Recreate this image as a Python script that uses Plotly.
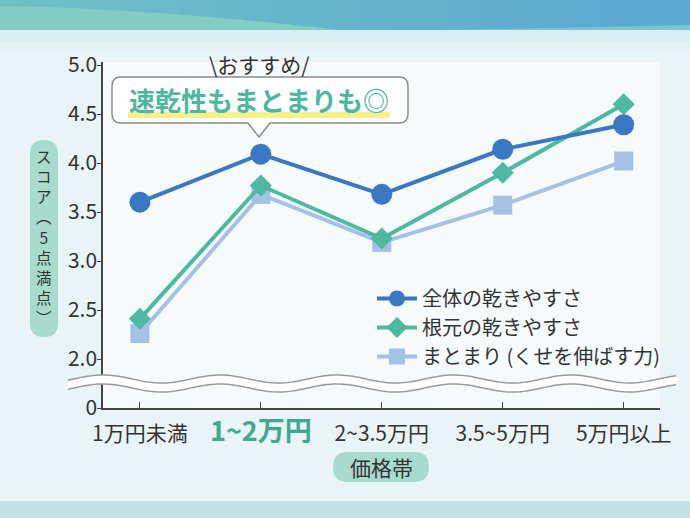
import numpy as np
import plotly.graph_objects as go

# price bands and scores
categories = ["1万円未満", "1~2万円", "2~3.5万円", "3.5~5万円", "5万円以上"]
overall = [3.60, 4.09, 3.68, 4.14, 4.39]      # 全体の乾きやすさ
roots = [2.41, 3.77, 3.23, 3.90, 4.60]        # 根元の乾きやすさ
matomari = [2.26, 3.68, 3.19, 3.57, 4.02]     # まとまり（くせを伸ばす力）
names = ["全体の乾きやすさ", "根元の乾きやすさ", "まとまり (くせを伸ばす力)"]

y_tickvals = [1.5, 2.0, 2.5, 3.0, 3.5, 4.0, 4.5, 5.0]
y_ticktext = ["0", "2.0", "2.5", "3.0", "3.5", "4.0", "4.5", "5.0"]
highlight = 1  # the recommended band

FONT = "Noto Sans CJK JP"
BLUE, TEAL, LIGHT = "#3b78c4", "#4cb9a0", "#a4c2e6"
PILL = "#a7dccd"

# plot area in pixels
L, T, W, H = 103, 62, 557, 346


def px(x):
    return (x - L) / W


def py(y):
    return (T + H - y) / H


def path(points, close=True):
    s = "M " + " L ".join(f"{px(x):.5f},{py(y):.5f}" for x, y in points)
    return s + (" Z" if close else "")


def rrect(x0, y0, x1, y1, r, pointer=None):
    def p(x, y):
        return f"{px(x):.5f},{py(y):.5f}"
    s = f"M {p(x0 + r, y0)} L {p(x1 - r, y0)} Q {p(x1, y0)} {p(x1, y0 + r)}"
    s += f" L {p(x1, y1 - r)} Q {p(x1, y1)} {p(x1 - r, y1)}"
    if pointer:
        cx, w, tip = pointer
        s += f" L {p(cx + w, y1)} L {p(cx, tip)} L {p(cx - w, y1)}"
    s += f" L {p(x0 + r, y1)} Q {p(x0, y1)} {p(x0, y1 - r)}"
    s += f" L {p(x0, y0 + r)} Q {p(x0, y0)} {p(x0 + r, y0)} Z"
    return s


def mix(c1, c2, t):
    a = [int(c1[i:i + 2], 16) for i in (1, 3, 5)]
    b = [int(c2[i:i + 2], 16) for i in (1, 3, 5)]
    return "#" + "".join(f"{round(u + (v - u) * t):02x}" for u, v in zip(a, b))


fig = go.Figure()
fig.add_trace(go.Scatter(x=categories, y=matomari, name=names[2], mode="lines+markers",
                         line=dict(color=LIGHT, width=4),
                         marker=dict(symbol="square", size=19, color=LIGHT)))
fig.add_trace(go.Scatter(x=categories, y=roots, name=names[1], mode="lines+markers",
                         line=dict(color=TEAL, width=4),
                         marker=dict(symbol="diamond", size=17, color=TEAL)))
fig.add_trace(go.Scatter(x=categories, y=overall, name=names[0], mode="lines+markers",
                         line=dict(color=BLUE, width=4),
                         marker=dict(symbol="circle", size=21, color=BLUE)))

shapes = []
# header band: teal -> blue
n = 23
for i in range(n):
    shapes.append(dict(type="rect", xref="paper", yref="paper",
                       x0=px(i * 690 / n), x1=px((i + 1) * 690 / n + 1),
                       y0=py(0), y1=py(30), fillcolor=mix("#6fbfc8", "#5aa9d0", i / (n - 1)),
                       line_width=0, layer="below"))
xs = np.linspace(0, 340, 40)
wedge = [(x, 6 + 24 * (x / 340) ** 1.6) for x in xs]
shapes.append(dict(type="path", xref="paper", yref="paper",
                   path=path(wedge + [(0, 30)]),
                   fillcolor="#82ccc2", line_width=0, layer="below"))
xs = np.linspace(430, 690, 30)
wedge = [(x, 30 - 5 * ((x - 430) / 260) ** 1.2) for x in xs]
shapes.append(dict(type="path", xref="paper", yref="paper",
                   path=path(wedge + [(690, 30)]),
                   fillcolor="#7cc4cf", line_width=0, layer="below"))
shapes.append(dict(type="rect", xref="paper", yref="paper", x0=px(0), x1=px(690),
                   y0=py(30), y1=py(41), fillcolor="#d8eef2", line_width=0, layer="below"))
shapes.append(dict(type="rect", xref="paper", yref="paper", x0=px(0), x1=px(690),
                   y0=py(41), y1=py(52), fillcolor="#e1f1f4", line_width=0, layer="below"))
# footer band
shapes.append(dict(type="rect", xref="paper", yref="paper", x0=px(0), x1=px(690),
                   y0=py(501), y1=py(518), fillcolor="#c3e2e6", line_width=0, layer="below"))
# axis title pills
shapes.append(dict(type="path", xref="paper", yref="paper", path=rrect(30, 140, 58, 337, 14),
                   fillcolor=PILL, line_width=0, layer="below"))
shapes.append(dict(type="path", xref="paper", yref="paper", path=rrect(333, 452, 429, 482, 15),
                   fillcolor=PILL, line_width=0, layer="below"))

# axis break (wavy band)
wx = np.linspace(68, 676, 200)
upper = 379 - 4 * np.cos(2 * np.pi * (wx - 103) / 117)
lower = upper + 9
band = list(zip(wx, upper)) + list(zip(wx[::-1], lower[::-1]))
shapes.append(dict(type="path", xref="paper", yref="paper", path=path(band),
                   fillcolor="#ffffff", line_width=0, layer="above"))
for edge in (upper, lower):
    shapes.append(dict(type="path", xref="paper", yref="paper",
                       path=path(list(zip(wx, edge)), close=False),
                       line=dict(color="#9a9a9a", width=1.5), layer="above"))

# callout box
shapes.append(dict(type="path", xref="paper", yref="paper",
                   path=rrect(112, 77, 408, 123, 9, pointer=(259, 11, 137)),
                   fillcolor="#ffffff", line=dict(color="#8c8c8c", width=1.5), layer="above"))
shapes.append(dict(type="rect", xref="paper", yref="paper", x0=px(128), x1=px(390),
                   y0=py(112), y1=py(118), fillcolor="#f6f08e", line_width=0, layer="above"))

# vertical y-axis title: one glyph per line
ytitle = "スコア︵5点満点︶"
annotations = [
    dict(x=px(259), y=py(64), text="\\おすすめ/", font=dict(size=21, color="#333333")),
    dict(x=px(259), y=py(99), text="<b>速乾性もまとまりも◎</b>",
         font=dict(size=26, color="#4db89f")),
    dict(x=px(381), y=py(467), text="価格帯", font=dict(size=21, color="#333333")),
    dict(x=px(44), y=py(236), text="<br>".join(ytitle), font=dict(size=15.5, color="#333333")),
]
for a in annotations:
    a.update(xref="paper", yref="paper", showarrow=False, xanchor="center", yanchor="middle")

ticktext = list(categories)
ticktext[highlight] = ("<span style='font-size:27px;color:#3fa88e'><b>"
                       + categories[highlight] + "</b></span>")

fig.update_layout(
    width=690, height=518,
    margin=dict(l=L, r=690 - L - W, t=T, b=518 - T - H),
    paper_bgcolor="#e8f4f6", plot_bgcolor="#f6fafb",
    font=dict(family=FONT, color="#333333"),
    shapes=shapes, annotations=annotations,
    showlegend=True,
    legend=dict(x=px(372), y=py(279), xanchor="left", yanchor="top",
                traceorder="reversed", bgcolor="rgba(0,0,0,0)",
                font=dict(size=20, color="#333333"), itemwidth=40),
    xaxis=dict(type="category", range=[-0.305, 4.3], tickvals=categories, ticktext=ticktext,
               ticks="inside", ticklen=6, tickcolor="#444444", showline=True,
               linecolor="#444444", linewidth=1.5, showgrid=False, ticklabelstandoff=6,
               tickfont=dict(size=21, color="#333333")),
    yaxis=dict(range=[1.5, 1.5 + H / 98], tickvals=y_tickvals, ticktext=y_ticktext,
               ticks="outside", ticklen=4, tickcolor="#444444", showline=True,
               linecolor="#444444", linewidth=1.5, showgrid=False, zeroline=False,
               ticklabelstandoff=-4,
               tickfont=dict(size=21, color="#333333")),
)

fig.write_html("out.html", config={"displayModeBar": False},
               post_script="document.body.style.margin='0';")
